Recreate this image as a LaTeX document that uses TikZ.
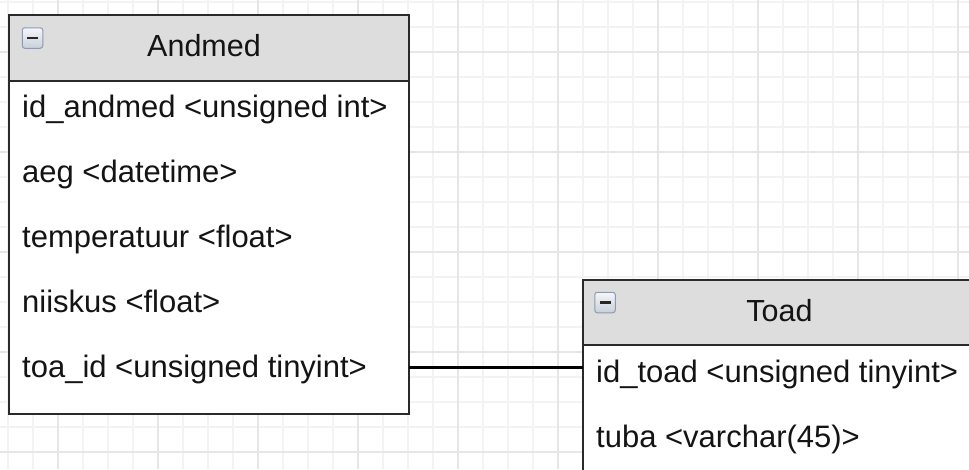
\documentclass[tikz,border=0pt]{standalone}
\usepackage{fontspec}
\setmainfont{Liberation Sans}
\definecolor{gridminor}{HTML}{F3F3F3}
\definecolor{gridmajor}{HTML}{E6E6E6}
\definecolor{headfill}{HTML}{DDDDDD}
\definecolor{boxline}{HTML}{2A2A2A}
\definecolor{iconline}{HTML}{8A9BB2}
\definecolor{icontop}{HTML}{F4F6F9}
\definecolor{iconbottom}{HTML}{C9D0DA}
\begin{document}
\begin{tikzpicture}[x=1pt,y=-1pt,
  minorline/.style={draw=gridminor, line width=1.3pt},
  majorline/.style={draw=gridmajor, line width=1.6pt},
  tablebox/.style={draw=boxline, line width=2pt, fill=white, outer sep=0pt, inner sep=0pt, anchor=north west},
  headbox/.style={draw=boxline, line width=2pt, fill=headfill, outer sep=0pt, inner sep=0pt, anchor=north west},
  tabletitle/.style={font=\fontsize{30.5}{36}\selectfont, text=black!92, inner sep=0pt, anchor=base},
  field/.style={font=\fontsize{31}{36}\selectfont, text=black!92, inner sep=0pt, anchor=base west},
  collapseicon/.style={draw=iconline, line width=1pt, rounded corners=2.5pt, top color=icontop, bottom color=iconbottom, minimum size=20.5pt, inner sep=0pt},
  minusbar/.style={draw=black!85, line width=2.6pt},
  relation/.style={draw=black, line width=3.5pt}
]
\useasboundingbox (0,0) rectangle (969,469);

% background grid
\begin{scope}
  \clip (0,0) rectangle (969,469);
  \fill[white] (0,0) rectangle (969,469);
  \foreach \x in {8,33,...,983} \draw[minorline] (\x,0) -- (\x,469);
  \foreach \y in {2,27,...,477} \draw[minorline] (0,\y) -- (969,\y);
  \foreach \x in {58,158,...,958} \draw[majorline] (\x,0) -- (\x,469);
  \foreach \y in {52,152,...,452} \draw[majorline] (0,\y) -- (969,\y);
\end{scope}

% table Andmed
\node[tablebox, minimum width=400pt, minimum height=399pt] (andmed) at (8.5,15) {};
\node[headbox, minimum width=400pt, minimum height=65.5pt] (andmedhead) at (8.5,15) {};
\node[collapseicon] (andmedicon) at (32.5,38) {};
\draw[minusbar] ([xshift=-5.5pt]andmedicon.center) -- ([xshift=5.5pt]andmedicon.center);
\node[tabletitle] (andmedtitle) at (204,56) {Andmed};
\node[field] (idandmed) at (22,117) {id\_andmed <unsigned int>};
\node[field] (aeg) at (22,182) {aeg <datetime>};
\node[field] (temperatuur) at (22,247) {temperatuur <float>};
\node[field] (niiskus) at (22,312) {niiskus <float>};
\node[field] (toaid) at (22,377) {toa\_id <unsigned tinyint>};

% table Toad
\node[tablebox, minimum width=400pt, minimum height=240pt] (toad) at (582.5,280) {};
\node[headbox, minimum width=400pt, minimum height=65pt] (toadhead) at (582.5,280) {};
\node[collapseicon] (toadicon) at (605,302.5) {};
\draw[minusbar] ([xshift=-5.5pt]toadicon.center) -- ([xshift=5.5pt]toadicon.center);
\node[tabletitle] (toadtitle) at (779.5,321) {Toad};
\node[field] (idtoad) at (596,382) {id\_toad <unsigned tinyint>};
\node[field] (tuba) at (596,447) {tuba <varchar(45)>};

% relation toa_id -> id_toad
\draw[relation] ([yshift=1.5pt]andmed.east |- toaid.center) -- ([yshift=1.5pt]toad.west |- toaid.center);
\end{tikzpicture}
\end{document}
